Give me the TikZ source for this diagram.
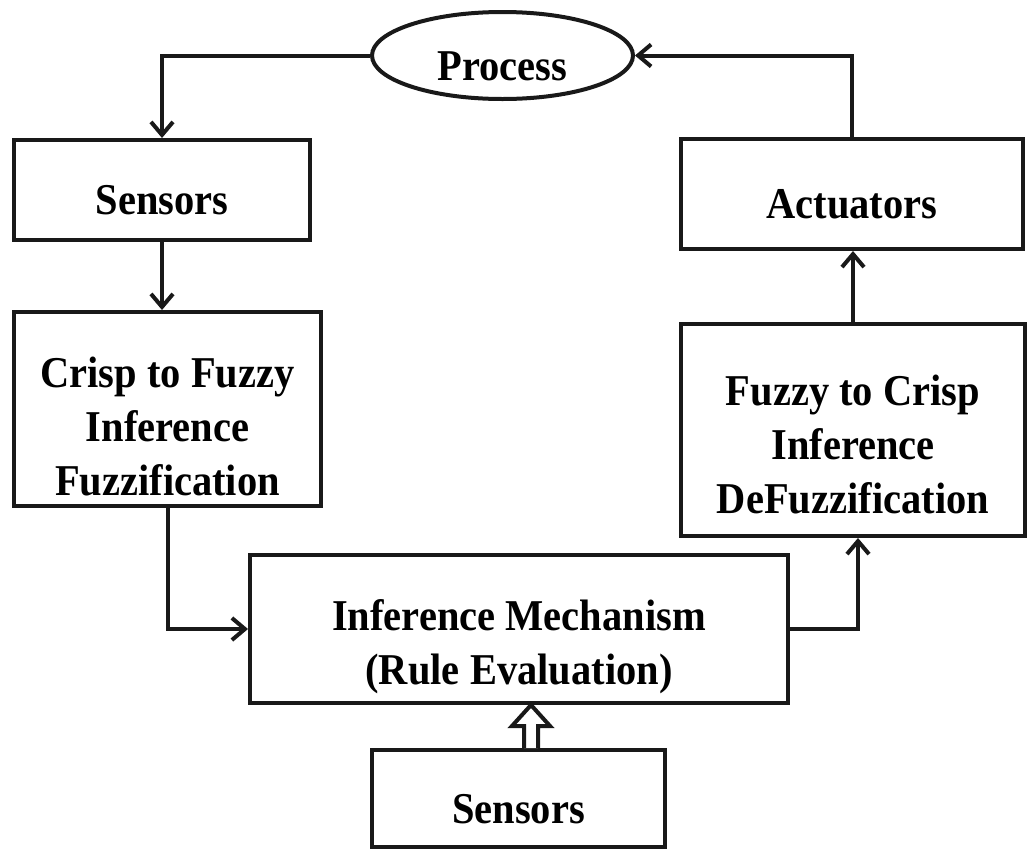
\documentclass[tikz,border=0pt]{standalone}
\usepackage{fontspec}
\setmainfont{Liberation Serif}[FakeStretch=0.92]
\usetikzlibrary{arrows.meta,shapes.geometric,calc}

\begin{document}
\begin{tikzpicture}[
    x=1pt, y=1pt,
    box/.style={
        draw=black!90,
        line width=4pt,
        minimum width=296pt,
        minimum height=100pt,
        align=center,
        inner sep=0pt,
        execute at begin node={\rule{0pt}{50pt}},
        font=\fontsize{44}{54}\selectfont\bfseries
    },
    arr/.style={-{Straight Barb[length=13pt,width=22pt,line width=4pt]}, line width=4pt, draw=black!90}
]
    \useasboundingbox (0,0) rectangle (1029,-852);

    \node[box, ellipse, minimum width=261pt, minimum height=87pt,
        execute at begin node={\rule{0pt}{40pt}}] (proc) at (502.5,-55.5)
        {Process};

    \node[box] (sens) at (162,-190)
        {Sensors};

    \node[box, minimum width=307pt, minimum height=194pt] (crisp) at (167.5,-409)
        {\rule{0pt}{66pt}Crisp to Fuzzy\\Inference\\Fuzzification};

    \node[box, minimum width=342pt, minimum height=110pt] (act) at (852,-194)
        {Actuators};

    \node[box, minimum width=344pt, minimum height=212pt] (defuz) at (853,-430)
        {\rule{0pt}{60pt}Fuzzy to Crisp\\Inference\\DeFuzzification};

    \node[box, minimum width=538pt, minimum height=148pt] (infer) at (519,-629)
        {\rule{0pt}{66pt}Inference Mechanism\\(Rule Evaluation)};

    \node[box, minimum width=293pt, minimum height=97pt] (rules) at (518.5,-798.5)
        {Sensors};

    \draw[arr] (proc.west) -| (sens.north);
    \draw[arr] (sens.south) -- (sens.south |- crisp.north);
    \draw[arr] (crisp.south) |- (infer.west);
    \draw[arr] (infer.east) -| ([xshift=5pt]defuz.south);
    \draw[arr] (defuz.north) -- (defuz.north |- act.south);
    \draw[arr] (act.north) |- (proc.east);

    % hollow arrow
    \coordinate (htip) at ($(infer.south)+(12,0)$);
    \coordinate (hbase) at (htip |- rules.north);
    \draw[line width=4pt, draw=black!90, fill=white, line join=miter]
        ($(hbase)+(-7,0)$) -- ($(htip)+(-7,-21)$) -- ($(htip)+(-19,-21)$) -- (htip)
        -- ($(htip)+(19,-21)$) -- ($(htip)+(7,-21)$) -- ($(hbase)+(7,0)$);
\end{tikzpicture}
\end{document}
